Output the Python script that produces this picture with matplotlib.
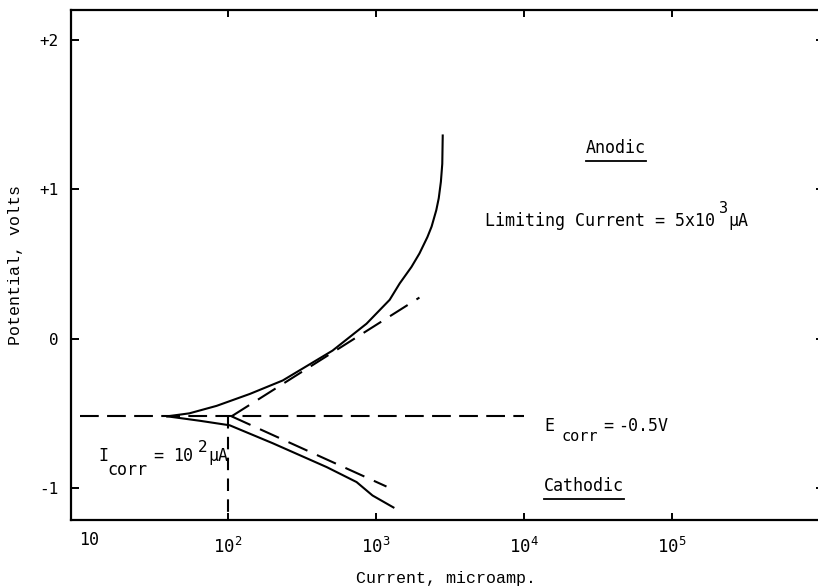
import numpy as np
import matplotlib
matplotlib.use('Agg')
import matplotlib.pyplot as plt
from matplotlib.lines import Line2D
from matplotlib.ticker import FixedLocator, NullLocator

# Polarization curves (current in microamp, potential in volts)
anodic_current = [39, 55, 84, 141, 235, 510, 865, 1240, 1450, 1740, 1970, 2230, 2380, 2560, 2660, 2750, 2810, 2830]
anodic_potential = [-0.52, -0.50, -0.45, -0.37, -0.28, -0.08, 0.10, 0.26, 0.37, 0.48, 0.57, 0.68, 0.75, 0.86, 0.94, 1.05, 1.17, 1.36]

cathodic_current = [39, 65, 103, 201, 466, 741, 950, 1315]
cathodic_potential = [-0.52, -0.55, -0.58, -0.70, -0.86, -0.96, -1.05, -1.13]

# Tafel extrapolation lines
anodic_tafel_current = [106, 1970]
anodic_tafel_potential = [-0.52, 0.275]
cathodic_tafel_current = [106, 1180]
cathodic_tafel_potential = [-0.52, -0.99]

e_corr = -0.52
e_corr_span = [10, 10000]
i_corr = 100

x_ticks = [100, 1000, 10000, 100000]
x_tick_labels = ['$10^{2}$', '$10^{3}$', '$10^{4}$', '$10^{5}$']
y_ticks = [2, 1, 0, -1]
y_tick_labels = ['+2', '+1', '0', '-1']

plt.rcParams['mathtext.fontset'] = 'custom'
plt.rcParams['mathtext.rm'] = 'DejaVu Sans Mono'
plt.rcParams['mathtext.it'] = 'DejaVu Sans Mono'

mono = 'DejaVu Sans Mono'
courier = 'Liberation Mono'
PX = 0.72  # points per pixel at dpi 100

fig = plt.figure(figsize=(8.18, 5.87), dpi=100)
ax = fig.add_axes([71 / 818, 1 - 520 / 587, (820 - 71) / 818, 510 / 587])

ax.set_xscale('log')
ax.set_xlim(10 ** 0.941, 10 ** 6.0)
ax.set_ylim(-1.214, 2.20)

lw = 1.5
ax.plot(anodic_current, anodic_potential, color='black', lw=lw)
ax.plot(cathodic_current, cathodic_potential, color='black', lw=lw)
ax.plot(anodic_tafel_current, anodic_tafel_potential, color='black', lw=lw, dashes=(10, 5))
ax.plot(cathodic_tafel_current, cathodic_tafel_potential, color='black', lw=lw, dashes=(10, 5))
ax.plot(e_corr_span, [e_corr, e_corr], color='black', lw=lw, dashes=(9, 4))
ax.plot([i_corr, i_corr], [e_corr, -1.214], color='black', lw=lw, dashes=(6, 4), clip_on=False)

# axes frame
for side in ['left', 'bottom', 'top']:
    ax.spines[side].set_linewidth(1.6)
ax.spines['right'].set_visible(False)

ax.xaxis.set_major_locator(FixedLocator(x_ticks))
ax.xaxis.set_minor_locator(NullLocator())
ax.set_xticklabels(x_tick_labels, fontsize=12.5)
ax.set_yticks(y_ticks)
ax.set_yticklabels(y_tick_labels, family=mono, fontsize=11.5)
ax.tick_params(axis='x', direction='in', length=5, width=1.4, top=True, pad=12)
ax.tick_params(axis='y', direction='in', length=6, width=1.4, pad=9)
ax.tick_params(axis='y', which='major', right=True)
for t in ax.yaxis.get_major_ticks():
    t.tick2line.set_markersize(3)

# the "10" label at the left end of the current axis
ax.text(10 ** 1.06, -1.214 - 0.075, '10', family=mono, fontsize=12, ha='center', va='top')

ax.set_xlabel('Current, microamp.', family=courier, fontsize=12, labelpad=10)
ax.set_ylabel('Potential, volts', family=courier, fontsize=12, labelpad=12)


def typed(x, y, pieces):
    # pieces: (text, x offset px, baseline shift px, font size) placed like a typewriter
    for s, dx, dy, size in pieces:
        ax.annotate(s, xy=(x, y), xytext=(dx * PX, dy * PX), textcoords='offset points',
                    family=mono, fontsize=size, ha='left', va='baseline')


t_anodic = ax.text(10 ** 4.623, 1.245, 'Anodic', family=mono, fontsize=12, ha='center', va='baseline')
t_cathodic = ax.text(10 ** 4.138, -1.018, 'Cathodic', family=mono, fontsize=12, ha='left', va='baseline')

typed(10 ** 3.74, 0.757, [('Limiting Current = 5x10', 0, 0, 12), ('3', 234, 13, 11),
                          ('μA', 243, 0, 12)])
typed(10 ** 4.138, -0.615, [('E', 0, 0, 12), ('corr', 17, -10, 11), ('=', 59, 0, 12),
                            ('-0.5V', 74, 0, 12)])
typed(10 ** 1.123, -0.82, [('I', 0, 0, 12), ('corr', 9, -14, 12), ('=', 55, 0, 12),
                           ('10', 75, 0, 12), ('2', 100, 9, 11.5), ('μA', 110, 0, 12)])

# underline the Anodic / Cathodic labels
fig.canvas.draw()
renderer = fig.canvas.get_renderer()
for t in [t_anodic, t_cathodic]:
    bb = t.get_window_extent(renderer)
    x0, x1 = bb.x0 / fig.bbox.width, bb.x1 / fig.bbox.width
    y = (bb.y0 - 4) / fig.bbox.height
    fig.add_artist(Line2D([x0, x1], [y, y], color='black', lw=1.3, transform=fig.transFigure))

plt.savefig('out.png', dpi=100)
